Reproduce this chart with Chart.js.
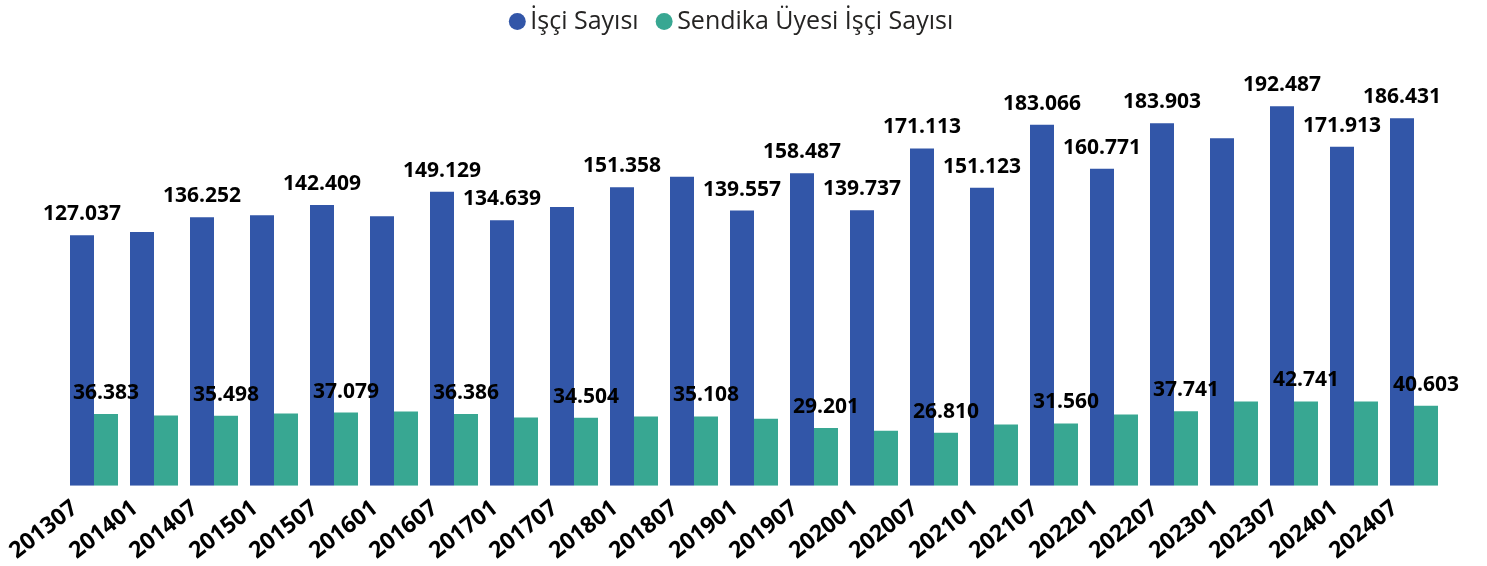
<!DOCTYPE html>
<html>
<head>
<meta charset="utf-8">
<script src="https://cdn.jsdelivr.net/npm/chart.js@4.4.1/dist/chart.umd.min.js"></script>
<style>
  html, body { margin: 0; padding: 0; background: #fff; }
  #wrap { width: 1487px; height: 566px; }
</style>
</head>
<body>
<div id="wrap"><canvas id="chart1"></canvas></div>
<script>
// Dönemler (yıl + ay)
const periods = ['201307', '201401', '201407', '201501', '201507', '201601', '201607', '201701',
  '201707', '201801', '201807', '201901', '201907', '202001', '202007', '202101', '202107',
  '202201', '202207', '202301', '202307', '202401', '202407'];

// İşçi sayısı (etiketi olmayanlar grafikten tahmin edildi)
const isciSayisi = [127037, 128700, 136252, 137200, 142409, 136700, 149129, 134639,
  141400, 151358, 156700, 139557, 158487, 139737, 171113, 151123, 183066,
  160771, 183903, 176300, 192487, 171913, 186431];

// Sendika üyesi işçi sayısı
const sendikaUyesi = [36383, 35600, 35498, 36600, 37079, 37600, 36386, 34600,
  34504, 35100, 35108, 34000, 29201, 27900, 26810, 31000, 31560,
  36100, 37741, 42700, 42741, 42700, 40603];

// Üst üste bindiği için gösterilmeyen etiketler (indeks)
const hiddenIsci = [1, 3, 5, 8, 10, 19];
const hiddenSendika = [1, 3, 5, 7, 9, 11, 13, 15, 17, 19, 21];

const FONT = '"Segoe UI", "Open Sans", sans-serif';

function fmt(v) {
  return String(v).replace(/\B(?=(\d{3})+(?!\d))/g, '.');
}

// Çubukların üstüne değer yazdır
const barLabels = {
  id: 'barLabels',
  afterLayout(chart) {
    // lejant biraz sola kaysın (orijinalde tam ortada değil)
    chart.legend.left -= 19;
    chart.legend.right -= 19;
  },
  afterDatasetsDraw(chart) {
    const ctx = chart.ctx;
    const hidden = [hiddenIsci, hiddenSendika];
    ctx.save();
    ctx.font = 'bold 21px ' + FONT;
    ctx.fillStyle = '#000';
    ctx.textAlign = 'center';
    ctx.textBaseline = 'alphabetic';
    chart.data.datasets.forEach((ds, di) => {
      const meta = chart.getDatasetMeta(di);
      meta.data.forEach((bar, i) => {
        if (hidden[di].includes(i)) return;
        ctx.fillText(fmt(ds.data[i]), bar.x, bar.y - 15);
      });
    });
    ctx.restore();
  }
};

const ctx = document.getElementById('chart1').getContext('2d');
const chart1 = new Chart(ctx, {
  type: 'bar',
  data: {
    labels: periods,
    datasets: [{
      label: 'İşçi Sayısı',
      data: isciSayisi,
      backgroundColor: '#3256A8',
      categoryPercentage: 0.8,
      barPercentage: 1.0
    }, {
      label: 'Sendika Üyesi İşçi Sayısı',
      data: sendikaUyesi,
      backgroundColor: '#38A792',
      categoryPercentage: 0.8,
      barPercentage: 1.0
    }]
  },
  options: {
    responsive: true,
    maintainAspectRatio: false,
    animation: false,
    layout: { padding: { left: 64, right: 43, top: -16, bottom: 0 } },
    plugins: {
      legend: {
        position: 'top',
        labels: {
          usePointStyle: true,
          pointStyle: 'circle',
          boxWidth: 1,
          boxHeight: 12,
          padding: 25,
          color: '#252423',
          font: { family: FONT, size: 25 }
        }
      },
      tooltip: { enabled: false }
    },
    scales: {
      x: {
        grid: { display: false },
        border: { display: false },
        ticks: {
          autoSkip: false,
          maxRotation: 38,
          minRotation: 38,
          labelOffset: -19,
          padding: 1,
          color: '#000',
          font: { family: FONT, size: 23, weight: 'bold' }
        }
      },
      y: {
        display: false,
        min: 0,
        max: 224100
      }
    }
  },
  plugins: [barLabels]
});
</script>
</body>
</html>
